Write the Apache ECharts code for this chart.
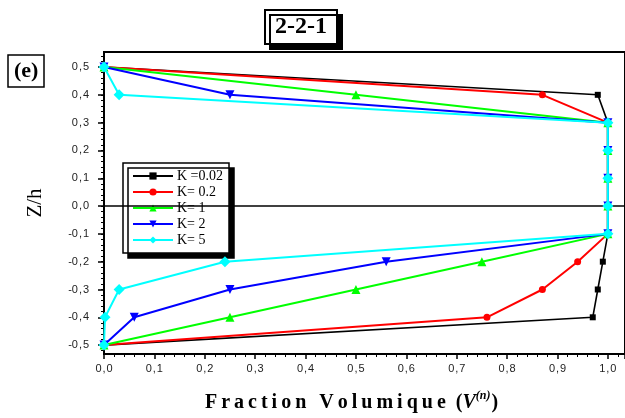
<!DOCTYPE html>
<html>
<head>
<meta charset="utf-8">
<script src="https://cdn.jsdelivr.net/npm/echarts@6/dist/echarts.min.js"></script>
<style>
  html, body { margin: 0; padding: 0; background: #fff; }
  #chart { width: 625px; height: 418px; }
</style>
</head>
<body>
<div id="chart"></div>
<script>
var zLevels = [0.5, 0.4, 0.3, 0.2, 0.1, 0.0, -0.1, -0.2, -0.3, -0.4, -0.5];
var vK002 = [0, 0.98, 1, 1, 1, 1, 1, 0.99, 0.98, 0.97, 0];
var vK02 = [0, 0.87, 1, 1, 1, 1, 1, 0.94, 0.87, 0.76, 0];
var vK1 = [0, 0.50, 1, 1, 1, 1, 1, 0.75, 0.50, 0.25, 0];
var vK2 = [0, 0.25, 1, 1, 1, 1, 1, 0.56, 0.25, 0.06, 0];
var vK5 = [0, 0.03, 1, 1, 1, 1, 1, 0.24, 0.03, 0.002, 0];
var seriesNames = ['K =0.02', 'K= 0.2', 'K= 1', 'K= 2', 'K= 5'];
var yTickLabels = [-0.5, -0.4, -0.3, -0.2, -0.1, 0, 0.1, 0.2, 0.3, 0.4, 0.5];

var yMinorTicks = [];
for (var i = -26; i <= 27; i++) {
	yMinorTicks.push(i * 0.02);
}

var dom = document.getElementById('chart');
var myChart = echarts.init(dom);

function pairs(vals) {
	return vals.map(function (v, i) { return [v, zLevels[i]]; });
}
function spaced(s) {
	return s.split('').join('\u2009');
}
function comma(v) {
	return (Math.round(v * 10) / 10).toFixed(1).replace('.', '\u200a,\u200a');
}

var serif = "'Liberation Serif', 'Times New Roman', serif";
var sans = "'Liberation Sans', Arial, sans-serif";

var colors = ['#000000', '#ff0000', '#00ff00', '#0000ff', '#00ffff'];
var symbols = ['rect', 'circle', 'triangle', 'path://M0,0 L10,0 L5,9 Z', 'diamond'];
var sizes = [6, 7, 9, 9, 11];
var allData = [vK002, vK02, vK1, vK2, vK5];

var series = allData.map(function (vals, i) {
	var s = {
		name: seriesNames[i],
		type: 'line',
		data: pairs(vals),
		symbol: symbols[i],
		symbolSize: sizes[i],
		clip: false,
		lineStyle: { color: colors[i], width: i === 0 ? 1.6 : 2 },
		itemStyle: { color: colors[i] },
		z: 2 + i
	};
	if (i === 0) {
		s.markLine = {
			silent: true,
			symbol: 'none',
			label: { show: false },
			lineStyle: { color: '#000', width: 1.5, type: 'solid' },
			data: [{ yAxis: 0 }]
		};
	}
	return s;
});

var option = {
	animation: false,
	backgroundColor: '#fff',
	color: colors,
	title: [{
		text: '2-2-1',
		left: 265,
		top: 10,
		padding: [5, 10],
		borderColor: '#000',
		borderWidth: 2,
		backgroundColor: '#fff',
		shadowColor: '#000',
		shadowBlur: 0,
		shadowOffsetX: 5,
		shadowOffsetY: 5,
		textStyle: { fontFamily: serif, fontWeight: 'bold', fontSize: 24, color: '#000' }
	}, {
		text: '(e)',
		left: 8,
		top: 55,
		padding: [5, 6],
		borderColor: '#000',
		borderWidth: 1.5,
		backgroundColor: '#fff',
		textStyle: { fontFamily: serif, fontWeight: 'bold', fontSize: 22, color: '#000' }
	}],
	legend: {
		data: seriesNames,
		orient: 'vertical',
		left: 123,
		top: 163,
		padding: [6, 6, 6, 9],
		itemWidth: 40,
		itemHeight: 9,
		itemGap: 2,
		backgroundColor: '#fff',
		borderColor: '#000',
		borderWidth: 1.5,
		borderRadius: 0,
		shadowColor: '#000',
		shadowBlur: 0,
		shadowOffsetX: 5,
		shadowOffsetY: 5,
		textStyle: { fontFamily: serif, fontSize: 14, lineHeight: 13, color: '#000', padding: [0, 0, 0, -1] }
	},
	grid: {
		left: 104,
		right: -2,
		top: 52,
		bottom: 64,
		show: true,
		borderColor: '#000',
		borderWidth: 2,
		backgroundColor: 'transparent'
	},
	xAxis: {
		type: 'value',
		min: 0,
		max: 1.034,
		interval: 0.1,
		name: '{a|' + spaced('Fraction Volumique') + '  (}{v|V}{s|(n)}{a|)}',
		nameLocation: 'middle',
		nameGap: 36,
		nameTextStyle: {
			padding: [0, 26, 0, 0],
			rich: {
				a: { fontFamily: serif, fontWeight: 'bold', fontSize: 20, color: '#000' },
				v: { fontFamily: serif, fontWeight: 'bold', fontStyle: 'italic', fontSize: 20, color: '#000' },
				s: { fontFamily: serif, fontWeight: 'bold', fontStyle: 'italic', fontSize: 12, color: '#000', padding: [0, 1, 14, 0] }
			}
		},
		axisLine: { show: true, onZero: false, lineStyle: { color: '#000', width: 2 } },
		axisTick: { show: true, inside: false, length: 5, lineStyle: { color: '#000', width: 1.5 } },
		minorTick: { show: true, splitNumber: 5, length: 3, lineStyle: { color: '#000', width: 1 } },
		splitLine: { show: false },
		axisLabel: {
			margin: 9,
			showMaxLabel: false,
			fontFamily: sans,
			fontSize: 11,
			color: '#222',
			formatter: comma
		}
	},
	yAxis: [{
		type: 'value',
		min: -0.532,
		max: 0.554,
		position: 'left',
		name: 'Z/h',
		nameLocation: 'middle',
		nameGap: 58,
		nameRotate: 90,
		nameTextStyle: { fontFamily: serif, fontSize: 21, color: '#000' },
		axisLine: { show: true, lineStyle: { color: '#000', width: 2 } },
		axisTick: { show: true, length: 6, customValues: yTickLabels, lineStyle: { color: '#000', width: 1.5 } },
		splitLine: { show: false },
		axisLabel: {
			margin: 15,
			customValues: yTickLabels,
			fontFamily: sans,
			fontSize: 11,
			color: '#222',
			formatter: comma
		}
	}, {
		type: 'value',
		min: -0.532,
		max: 0.554,
		position: 'left',
		axisLine: { show: false },
		axisTick: { show: true, length: 3, customValues: yMinorTicks, lineStyle: { color: '#000', width: 1 } },
		axisLabel: { show: false },
		splitLine: { show: false }
	}],
	series: series
};

myChart.setOption(option);
</script>
</body>
</html>
